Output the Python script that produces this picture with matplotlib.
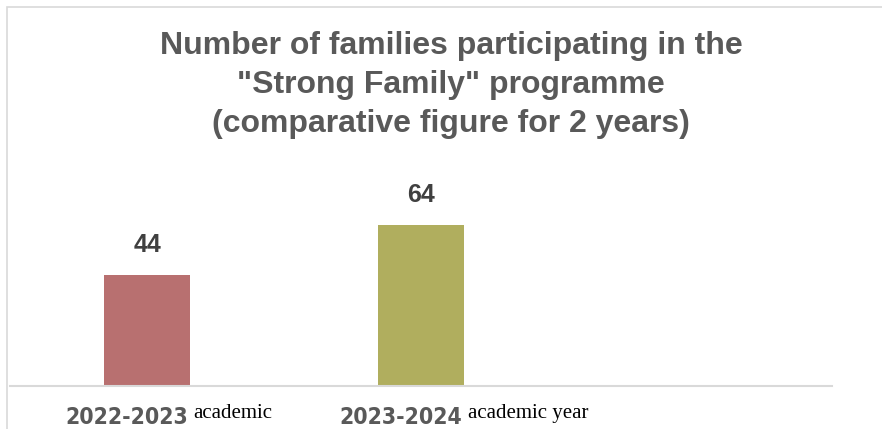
import matplotlib.pyplot as plt
from matplotlib.patches import Rectangle
import matplotlib.transforms as mtransforms

years = ["2022-2023", "2023-2024", ""]
year_suffix = ["academic", "academic year", ""]
families = [44, 64, None]
bar_colors = ["#b87070", "#b0ae5e"]
title = 'Number of families participating in the\n"Strong Family" programme\n(comparative figure for 2 years)'

W, H = 882, 429
fig = plt.figure(figsize=(W / 100, H / 100), dpi=100)

# outer chart frame (light gray, cut by the right side)
fig.patches.append(Rectangle((7 / W, -0.1), 1.0, (H - 7) / H + 0.1, transform=fig.transFigure,
                             fill=False, edgecolor="#d9d9d9", linewidth=1.2))

ax = fig.add_axes([10 / W, 43 / H, 822 / W, 236 / H])
xs = [i for i, v in enumerate(families) if v is not None]
vals = [v for v in families if v is not None]
ax.bar(xs, vals, width=0.315, color=bar_colors)
ax.set_xlim(-0.5, 2.5)
ax.set_ylim(0, 236 / 2.52)

for x, v in zip(xs, vals):
    ax.text(x, v + 7, str(v), ha="center", va="bottom", fontsize=18, fontweight="bold",
            color="#404040", family="Liberation Sans")

for s in ["left", "right", "top"]:
    ax.spines[s].set_visible(False)
ax.spines["bottom"].set_color("#d9d9d9")
ax.spines["bottom"].set_linewidth(1.5)
ax.set_xticks([])
ax.set_yticks([])

# category labels (bold year + serif suffix, as in the source)
trans = mtransforms.blended_transform_factory(ax.transData, fig.transFigure)
for i in xs:
    ax.text(i + 0.15, 5 / H, years[i], transform=trans, ha="right", va="baseline",
            fontsize=16.5, fontweight="bold", color="#595959", family="DejaVu Sans",
            fontstretch="condensed")
    ax.text(i + 0.17, 11 / H, year_suffix[i], transform=trans, ha="left", va="baseline",
            fontsize=15, color="black", family="Liberation Serif")

fig.text(451 / W, 1 - 31 / H, title, ha="center", va="top", fontsize=23, fontweight="bold",
         color="#595959", family="Liberation Sans", linespacing=1.4)

fig.savefig("out.png", dpi=100)
